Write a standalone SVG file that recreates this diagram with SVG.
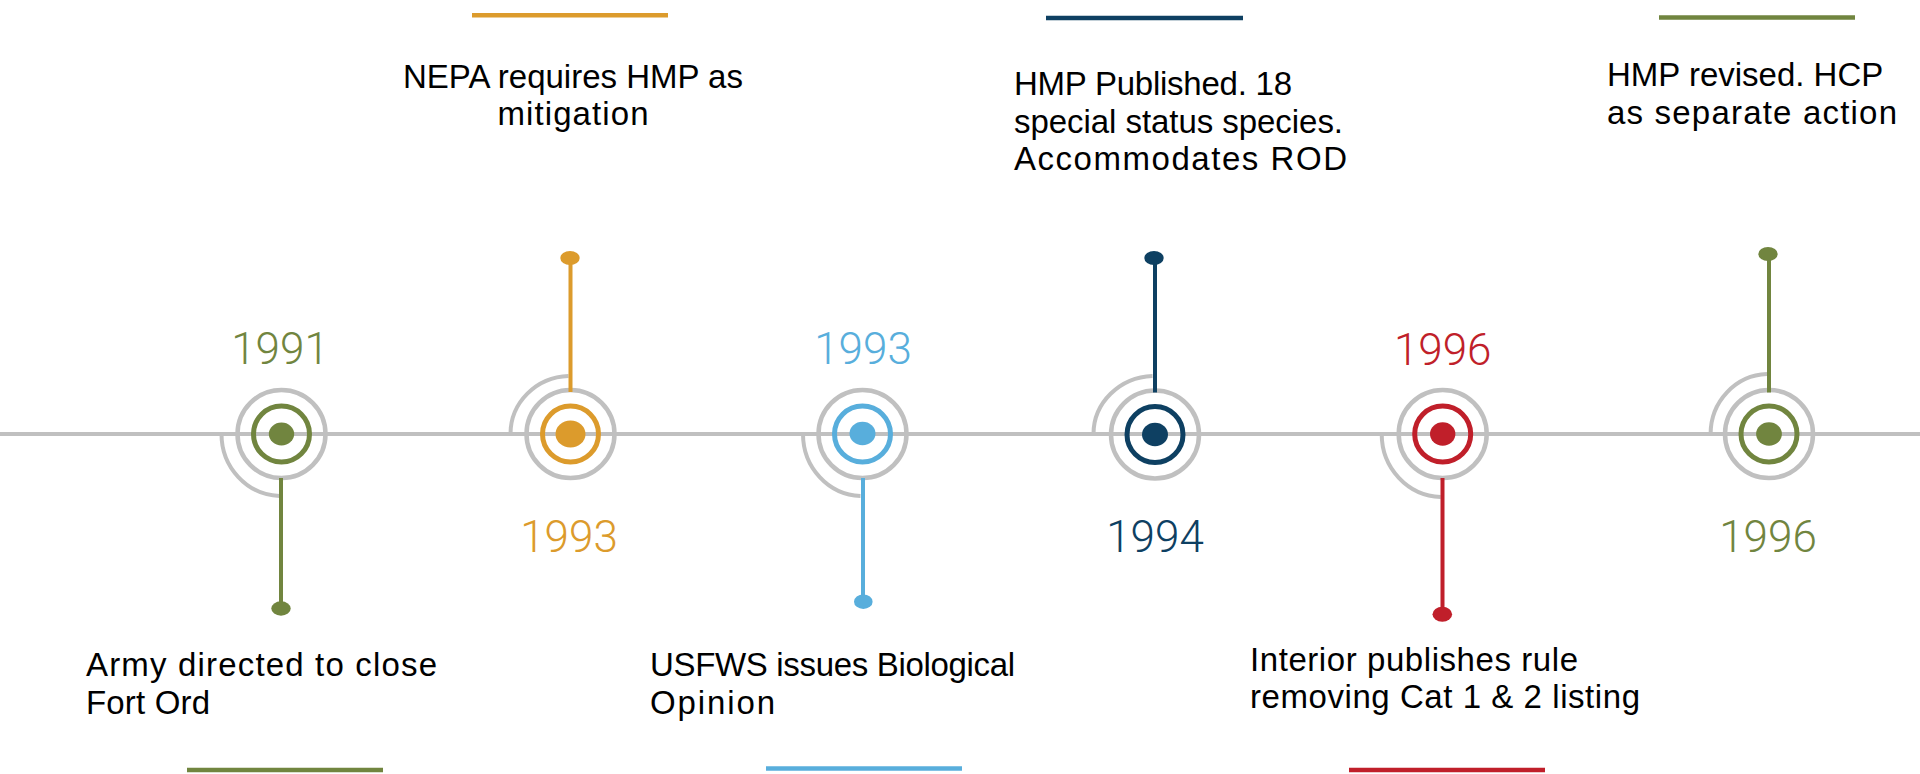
<svg xmlns="http://www.w3.org/2000/svg" width="1920" height="774" viewBox="0 0 1920 774">
<style>
.tl{stroke:#C0C0C0;stroke-width:4;fill:none}
.ring{fill:none;stroke:#C0C0C0;stroke-width:4.5}
.arc{fill:none;stroke:#C0C0C0;stroke-width:4}
.cring{fill:none;stroke-width:5}
.stem{stroke-width:4;fill:none}
.bar{stroke-width:4.5;fill:none}
.txt{font-family:"Liberation Sans",Arial,sans-serif;font-size:33px;fill:#000}
.yr{font-family:"Roboto","Liberation Sans",Arial,sans-serif;font-weight:300;font-size:44px;text-anchor:middle}
.g{stroke:#71853F}.gf{fill:#71853F}
.o{stroke:#DC9B2C}.of{fill:#DC9B2C}
.b{stroke:#58AEDC}.bf{fill:#58AEDC}
.n{stroke:#0E4062}.nf{fill:#0E4062}
.r{stroke:#C01F2A}.rf{fill:#C01F2A}
</style>
<rect width="1920" height="774" fill="#fff"/>
<g id="connectors">
<line class="tl" x1="0" y1="434" x2="1920" y2="434"/>
</g>
<g id="n1991">
<path class="arc" d="M221.5 434 A60 62 0 0 0 279.5 496"/>
<circle class="ring" cx="281.5" cy="434" r="44"/>
<circle class="cring g" cx="281.5" cy="434" r="28"/>
<ellipse class="gf" cx="281.5" cy="434" rx="12.7" ry="11.4"/>
<line class="stem g" x1="281" y1="478" x2="281" y2="608"/>
<ellipse class="gf" cx="281" cy="608.5" rx="9.7" ry="7.2"/>
<text class="yr gf" x="280" y="364">1991</text>
<text class="txt"><tspan x="86" y="676" textLength="351">Army directed to close</tspan><tspan x="86" y="714" textLength="124">Fort Ord</tspan></text>
<line class="bar g" x1="187" y1="770" x2="383" y2="770"/>
</g>
<g id="n1993a">
<path class="arc" d="M510.5 434 A60 58 0 0 1 568.5 376"/>
<circle class="ring" cx="570.5" cy="434" r="44"/>
<circle class="cring o" cx="570.5" cy="434" r="28"/>
<ellipse class="of" cx="570.5" cy="434" rx="15" ry="13.6"/>
<line class="stem o" x1="570.5" y1="392" x2="570.5" y2="258"/>
<ellipse class="of" cx="570" cy="258" rx="9.7" ry="7"/>
<text class="yr of" x="569" y="552">1993</text>
<text class="txt" text-anchor="middle"><tspan x="573" y="88">NEPA requires HMP as</tspan><tspan x="573" y="125" textLength="151">mitigation</tspan></text>
<line class="bar o" x1="472" y1="15.3" x2="668" y2="15.3"/>
</g>
<g id="n1993b">
<path class="arc" d="M803 434 A59.5 62 0 0 0 860.5 496"/>
<circle class="ring" cx="862.5" cy="434" r="44"/>
<circle class="cring b" cx="862.5" cy="434" r="28"/>
<ellipse class="bf" cx="862.5" cy="433.5" rx="13" ry="11.7"/>
<line class="stem b" x1="863" y1="478" x2="863" y2="601.7"/>
<ellipse class="bf" cx="863.3" cy="601.7" rx="9.3" ry="7.3"/>
<text class="yr bf" x="863" y="364">1993</text>
<text class="txt"><tspan x="650" y="676" textLength="365">USFWS issues Biological</tspan><tspan x="650" y="714" textLength="125">Opinion</tspan></text>
<line class="bar b" x1="766" y1="768.5" x2="962" y2="768.5"/>
</g>
<g id="n1994">
<path class="arc" d="M1093.5 434 A61.5 58 0 0 1 1152.5 376"/>
<circle class="ring" cx="1155" cy="434.5" r="44"/>
<circle class="cring n" cx="1155" cy="434.5" r="28"/>
<ellipse class="nf" cx="1155" cy="434.5" rx="13" ry="11.7"/>
<line class="stem n" x1="1155" y1="392.5" x2="1155" y2="258"/>
<ellipse class="nf" cx="1154" cy="258" rx="9.7" ry="7"/>
<text class="yr nf" x="1155" y="552">1994</text>
<text class="txt"><tspan x="1014" y="95" textLength="278">HMP Published. 18</tspan><tspan x="1014" y="132.5" textLength="329">special status species.</tspan><tspan x="1014" y="169.5" textLength="333">Accommodates ROD</tspan></text>
<line class="bar n" x1="1046" y1="18" x2="1243" y2="18"/>
</g>
<g id="n1996a">
<path class="arc" d="M1381.7 434 A61 63 0 0 0 1440.7 497"/>
<circle class="ring" cx="1442.7" cy="434" r="44"/>
<circle class="cring r" cx="1442.7" cy="434" r="28"/>
<ellipse class="rf" cx="1442.7" cy="434" rx="12.7" ry="11.7"/>
<line class="stem r" x1="1442.5" y1="478" x2="1442.5" y2="614"/>
<ellipse class="rf" cx="1442.3" cy="614.3" rx="9.8" ry="7.5"/>
<text class="yr rf" x="1442.7" y="365">1996</text>
<text class="txt"><tspan x="1250" y="671" textLength="328">Interior publishes rule</tspan><tspan x="1250" y="708" textLength="390">removing Cat 1 &amp; 2 listing</tspan></text>
<line class="bar r" x1="1349" y1="770" x2="1545" y2="770"/>
</g>
<g id="n1996b">
<path class="arc" d="M1710.6 434 A58.4 60 0 0 1 1767 374"/>
<circle class="ring" cx="1769" cy="434" r="44"/>
<circle class="cring g" cx="1769" cy="434" r="28"/>
<ellipse class="gf" cx="1769" cy="434" rx="12.9" ry="11.7"/>
<line class="stem g" x1="1769" y1="392.5" x2="1769" y2="258"/>
<ellipse class="gf" cx="1768" cy="254" rx="9.7" ry="7"/>
<text class="yr gf" x="1768" y="552">1996</text>
<text class="txt"><tspan x="1607" y="86">HMP revised. HCP</tspan><tspan x="1607" y="124" textLength="290">as separate action</tspan></text>
<line class="bar g" x1="1659" y1="17.5" x2="1855" y2="17.5"/>
</g>
</svg>
